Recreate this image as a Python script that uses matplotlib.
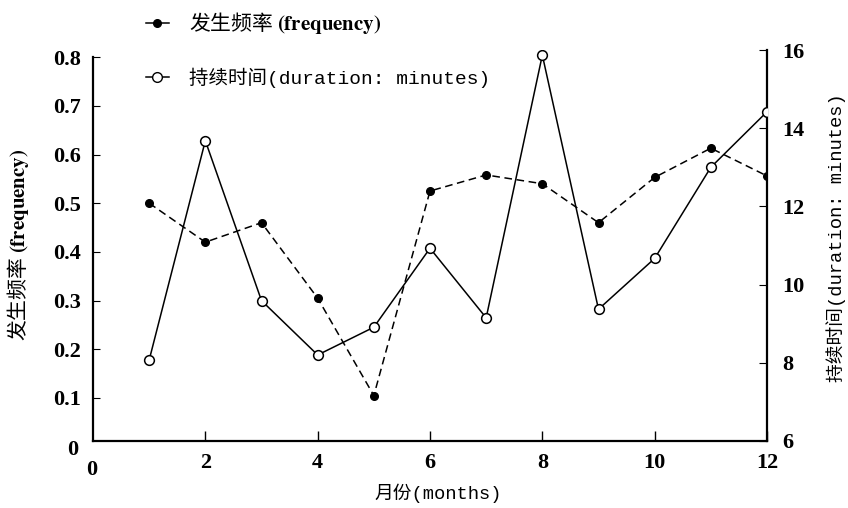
import matplotlib
matplotlib.use("Agg")
import matplotlib.pyplot as plt
from matplotlib.lines import Line2D

plt.rcParams['font.family'] = ['Liberation Serif', 'Noto Sans CJK SC', 'DejaVu Sans']
plt.rcParams['mathtext.fontset'] = 'stix'

months = [1, 2, 3, 4, 5, 6, 7, 8, 9, 10, 11, 12]
frequency = [0.50, 0.42, 0.46, 0.305, 0.105, 0.525, 0.558, 0.54, 0.46, 0.553, 0.613, 0.556]
duration = [8.07, 13.68, 9.59, 8.20, 8.91, 10.93, 9.15, 15.87, 9.37, 10.67, 13.0, 14.42]
x_ticks = [2, 4, 6, 8, 10, 12]
freq_ticks = [0.1, 0.2, 0.3, 0.4, 0.5, 0.6, 0.7, 0.8]
dur_ticks = [6, 8, 10, 12, 14, 16]

W, H = 848, 508
fig = plt.figure(figsize=(W / 100, H / 100), dpi=100)
ax = fig.add_axes([93 / W, 67 / H, 674 / W, 391 / H])
ax2 = ax.twinx()

mono_cjk = ['Liberation Mono', 'Noto Sans CJK SC']
tick_font = dict(family='Liberation Serif', weight='bold', size=16)

# frequency (dashed, filled dots)
l1, = ax.plot(months, frequency, color='black', lw=1.1, ls=(0, (5, 3)),
              marker='o', ms=5.5, mfc='black', mec='black', zorder=3)
# duration (solid, open circles)
l2, = ax2.plot(months, duration, color='black', lw=1.1, ls='-',
               marker='o', ms=7, mfc='white', mec='black', mew=1.1, zorder=3)

ax.set_xlim(0, 12)
ax.set_ylim(0.0117, 0.8146)
ax2.set_ylim(6, 16)

ax.set_xticks(x_ticks)
ax.set_xticklabels([str(v) for v in x_ticks], **tick_font)
ax.set_yticks(freq_ticks)
ax.set_yticklabels([f"{v:.1f}" for v in freq_ticks], **tick_font)
ax2.set_yticks(dur_ticks)
ax2.set_yticklabels([str(v) for v in dur_ticks], **tick_font)

ax.tick_params(axis='x', direction='in', length=7, width=1.0, pad=9)
ax.tick_params(axis='y', direction='in', length=5, width=0.8, pad=9)
ax2.tick_params(axis='y', direction='in', length=6, width=0.8, pad=11)

for a in (ax, ax2):
    a.spines['top'].set_visible(False)
    for s in a.spines.values():
        s.set_linewidth(1.6)
ax.spines['right'].set_visible(False)
ax2.spines['left'].set_visible(False)
ax2.spines['bottom'].set_visible(False)
ax.spines['left'].set_bounds(0.0117, 0.8)

# zero labels
fig.text(73 / W, 1 - 450 / H, '0', ha='center', va='center', **tick_font)
fig.text(92 / W, 1 - 470 / H, '0', ha='center', va='center', **tick_font)

# axis titles
fig.text(18 / W, 1 - 245 / H, '发生频率 $\\mathbf{(frequency)}$', rotation=90,
         ha='center', va='center', fontsize=15,
         family=['Noto Sans CJK SC', 'DejaVu Sans'])
fig.text(836 / W, 1 - 238 / H, '持续时间(duration: minutes)', rotation=90,
         ha='center', va='center', fontsize=13.5, family=mono_cjk)
fig.text(438 / W, 1 - 493 / H, '月份(months)', ha='center', va='center',
         fontsize=13.5, family=mono_cjk)

# legend
h1 = Line2D([], [], color='black', lw=1.1, marker='o', ms=5.5, mfc='black')
h2 = Line2D([], [], color='black', lw=1.1, marker='o', ms=7, mfc='white', mec='black')
leg = fig.legend([h1, h2], ['发生频率 $\\mathbf{(frequency)}$', '持续时间(duration: minutes)'],
                 loc='upper left', bbox_to_anchor=(138 / W, 1 - 2 / H),
                 borderaxespad=0, frameon=False, handlelength=1.2, handletextpad=1.0,
                 labelspacing=1.65, fontsize=14)
leg.get_texts()[0].set_family(['Noto Sans CJK SC', 'DejaVu Sans'])
leg.get_texts()[0].set_fontsize(15)
leg.get_texts()[1].set_family(mono_cjk)

fig.savefig('out.png', dpi=100)
